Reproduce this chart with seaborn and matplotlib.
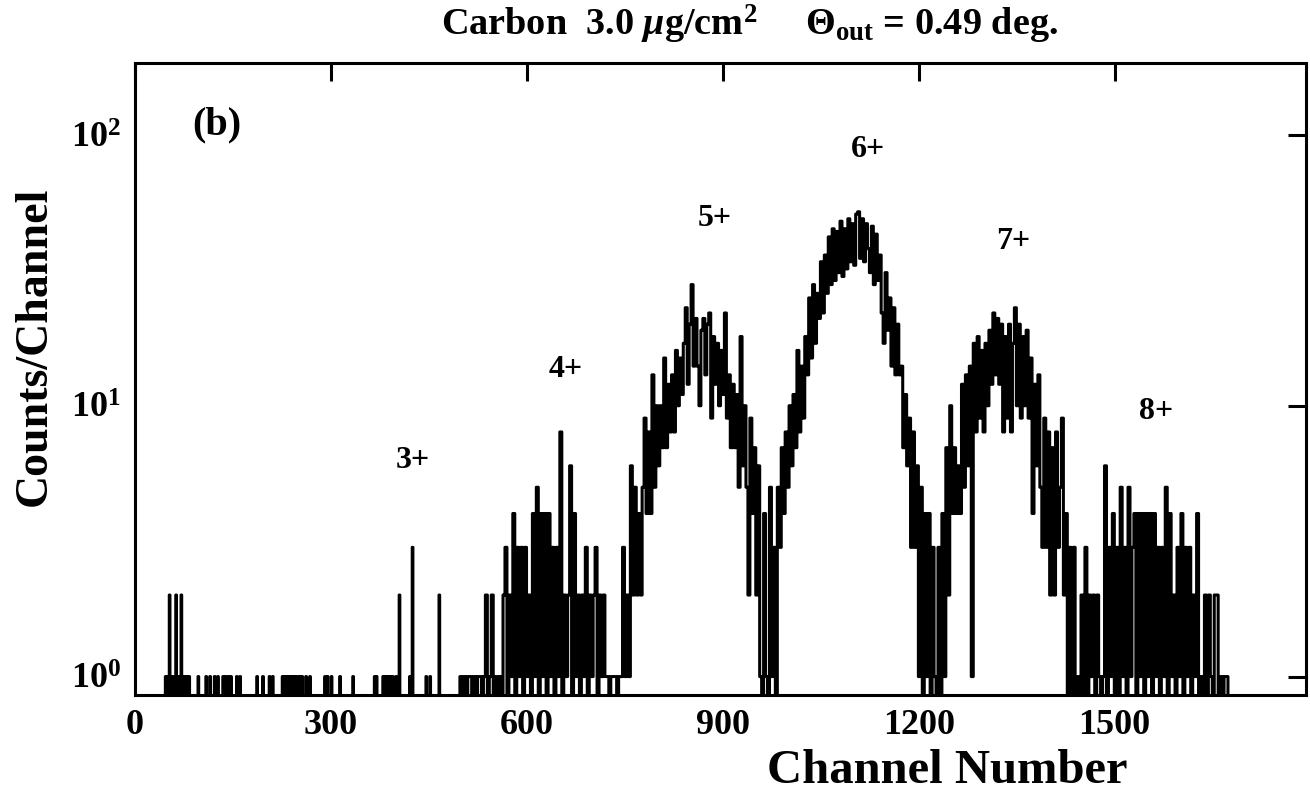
import matplotlib
matplotlib.use('agg')
import matplotlib.pyplot as plt
from matplotlib import ticker
import numpy as np
import pandas as pd
import seaborn as sns

# --- counts per channel ---
n_channels = 1793

# low channels: isolated single counts (and a few 2s / one 3)
tail_ones = [47, 49, 51, 55, 57, 58, 65, 67, 69, 73, 75, 77, 80, 83,
             97, 109, 115, 122, 127, 135, 139, 143, 147, 156, 161,
             187, 196, 206, 211, 226, 228, 230, 233, 236, 238, 240, 243,
             246, 250, 253, 256, 262, 268, 291, 295, 301, 314, 334,
             367, 370, 380, 383, 386, 389, 392, 395, 400, 421, 446, 452]
tail_twos = [53, 63, 71, 405, 466]
tail_threes = [425]

# dense part: 3-channel bins from channel 498 on
bin_start = 498
bin_width = 3

group_3_4 = [
    1, 0, 1, 0, 1, 1, 0, 1, 0, 1, 1, 0, 1, 2, 0, 1, 2, 0, 1, 0, 1, 0,
    2, 3, 0, 2, 1, 4, 0, 3, 1, 3,
    0, 3, 1, 2, 0, 4, 1, 5, 0, 4,
    1, 4, 0, 4, 1, 3, 0, 3, 1, 8,
    0, 2, 1, 2, 6, 0, 4, 1, 2, 0,
    2, 1, 3, 0, 2, 1, 2, 3, 0, 2,
    1, 2,
    1, 1, 0, 1, 1, 1, 0, 1, 1,
]
peak_5 = [
    3, 1, 2, 1, 6, 2, 5, 2, 4, 2,
    5, 9, 4, 8, 4, 13, 5, 10, 6, 10,
    7, 15, 7, 12, 8, 13, 8, 16, 10, 15,
    11, 17, 23, 12, 20, 28, 14, 21, 14, 10,
    19, 21, 13, 20, 22, 9, 18, 12, 17, 10,
    16, 11, 22, 9, 13, 7, 12, 7, 11, 5,
    18, 6, 10, 5, 2, 9, 4, 7, 2, 6,
    1, 0, 4, 1, 0, 5, 1, 3, 0, 5,
    3,
]
peak_6 = [
    7, 4, 8, 5, 10, 6, 11, 7, 16, 8,
    14, 9, 18, 13, 25, 15, 28, 17, 26, 21,
    34, 22, 36, 26, 42, 28, 45, 29, 44, 31,
    48, 30, 45, 32, 49, 34, 47, 33, 51, 52,
    35, 49, 34, 47, 38, 31, 46, 28, 43, 29,
    36, 22, 17, 31, 19, 25, 14, 23, 13, 20,
    13, 14, 7, 11, 6, 9, 3, 8, 3, 6,
    1, 5, 0, 4, 1, 4, 0, 3, 1, 0,
    3, 0, 4, 1,
]
peak_7 = [
    7, 2, 10, 4, 7, 4, 6, 4, 12, 5,
    13, 6, 14, 1, 17, 8, 18, 9, 16, 8,
    17, 10, 19, 12, 22, 13, 21, 12, 20, 8,
    18, 9, 20, 8, 17, 23, 10, 20, 9, 18,
    10, 19, 9, 15, 4, 12, 6, 13, 5, 3,
    9, 3, 8, 2, 7, 2, 8, 3, 5, 9,
    2, 4, 0, 3, 0, 3, 0,
]
peak_8 = [
    1, 0, 2, 0, 3, 0, 2, 1, 2, 0,
    2, 1, 0, 1, 6, 0, 3, 1, 4, 0,
    3, 0, 5, 1, 3, 0, 5, 1, 3, 4,
    0, 4, 1, 4, 0, 4, 1, 4, 0, 4,
    1, 3, 0, 3, 1, 5, 0, 4, 1, 2,
    0, 3, 1, 4, 0, 3, 1, 3, 0, 2,
    1, 4, 0, 1, 0, 2, 0, 2, 1, 0,
    2, 2, 0, 1, 0, 1, 1, 0,
]

charge_labels = ['3+', '4+', '5+', '6+', '7+', '8+']
x_ticks = [0, 300, 600, 900, 1200, 1500]
y_ticks = [1, 10, 100]

# --- build the per-channel table ---
counts = np.zeros(n_channels)
counts[tail_ones] = 1
counts[tail_twos] = 2
counts[tail_threes] = 3
dense = group_3_4 + peak_5 + peak_6 + peak_7 + peak_8
for i, v in enumerate(dense):
    lo = bin_start + i * bin_width
    counts[lo:lo + bin_width] = v
df = pd.DataFrame({'channel': np.arange(n_channels), 'counts': counts})

# --- plot ---
sns.set_style('white')
plt.rcParams['font.family'] = ['Liberation Serif', 'DejaVu Serif']
plt.rcParams['font.weight'] = 'bold'
plt.rcParams['mathtext.fontset'] = 'custom'
plt.rcParams['mathtext.rm'] = 'Liberation Serif:bold'
plt.rcParams['mathtext.bf'] = 'Liberation Serif:bold'
plt.rcParams['mathtext.it'] = 'Liberation Serif:bold:italic'
plt.rcParams['mathtext.default'] = 'rm'
for key in ['text.color', 'axes.labelcolor', 'xtick.color', 'ytick.color',
            'axes.edgecolor']:
    plt.rcParams[key] = 'black'

W, H = 1310, 796
fig = plt.figure(figsize=(W / 100, H / 100), dpi=100)
ax = fig.add_axes([135 / W, 1 - 695 / H, (1306 - 135) / W, (695 - 62.5) / H])

sns.lineplot(data=df, x='channel', y='counts', drawstyle='steps-mid',
             color='black', lw=2.2, estimator=None, ax=ax)
ax.set_yscale('log')
ax.set_xlim(0, 1793)
ax.set_ylim(0.855, 185)
ax.set_xlabel('')
ax.set_ylabel('')

ax.set_xticks(x_ticks)
ax.yaxis.set_major_locator(ticker.FixedLocator(y_ticks))
ax.yaxis.set_minor_locator(ticker.NullLocator())
ax.yaxis.set_major_formatter(ticker.FuncFormatter(
    lambda v, p: r'$10^{%d}$' % round(np.log10(v))))
ax.tick_params(which='major', direction='in', length=13, width=2.2,
               top=True, right=True, labelsize=26, pad=10, colors='black')
for s in ax.spines.values():
    s.set_linewidth(2.2)
    s.set_color('black')

# charge-state labels and panel tag
label_x = [425, 659, 888, 1122, 1344, 1564]
label_y = [6.3, 13.6, 49, 88, 40.5, 9.5]
for lab, lx, ly in zip(charge_labels, label_x, label_y):
    ax.text(lx, ly, lab, ha='center', va='center', fontsize=23)
ax.text(125, 109, '(b)', ha='center', va='center', fontsize=29)

fig.text(750 / W, 1 - 35 / H,
         r'Carbon  3.0 $\mathit{\mu}$g/cm$^{2}$     $\Theta_{out}$ = 0.49 deg.',
         ha='center', va='baseline', fontsize=27.5)
fig.text(35 / W, 1 - 346 / H, 'Counts/Channel', rotation=90,
         ha='center', va='center', fontsize=33)
fig.text(947 / W, 1 - 783 / H, 'Channel Number',
         ha='center', va='baseline', fontsize=35)

fig.savefig('out.png', dpi=100)
